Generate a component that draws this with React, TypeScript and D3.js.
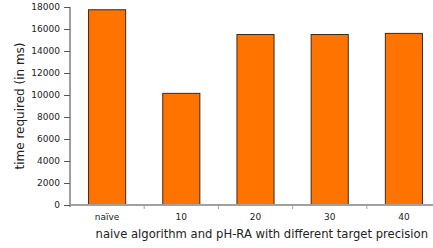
import { useEffect, useRef } from 'react';
import * as d3 from 'd3';

const WIDTH = 433;
const HEIGHT = 248;
const MARGIN = { top: 7, right: -8, bottom: 43, left: 70 };

const categories = ['naïve', '10', '20', '30', '40'];
const times = [17750, 10150, 15500, 15500, 15600];
const yTicks = [0, 2000, 4000, 6000, 8000, 10000, 12000, 14000, 16000, 18000];

const FONT = '"DejaVu Sans", Verdana, sans-serif';
const AXIS_COLOR = '#a0a0a0';

export default function App() {
  const xAxisRef = useRef<SVGGElement>(null);
  const yAxisRef = useRef<SVGGElement>(null);

  const innerWidth = WIDTH - MARGIN.left - MARGIN.right;
  const innerHeight = HEIGHT - MARGIN.top - MARGIN.bottom;

  const x = d3.scaleBand<string>().domain(categories).range([0, innerWidth]).paddingInner(0.5).paddingOuter(0.25);
  const y = d3.scaleLinear().domain([0, 18000]).range([innerHeight, 0]);

  useEffect(() => {
    const xg = d3.select(xAxisRef.current!);
    xg.call(d3.axisBottom(x).tickSize(0).tickPadding(9));
    xg.select('.domain').remove();
    // tick marks sit between the categories
    const step = x.step();
    xg.selectAll('line.sep')
      .data(categories.slice(1))
      .join('line')
      .attr('class', 'sep')
      .attr('x1', (d) => x(d)! - (step - x.bandwidth()) / 2)
      .attr('x2', (d) => x(d)! - (step - x.bandwidth()) / 2)
      .attr('y1', 0)
      .attr('y2', 4)
      .attr('stroke', AXIS_COLOR)
      .attr('stroke-width', 1);
    xg.selectAll('text').attr('font-family', FONT).attr('font-size', 9).attr('fill', '#222');

    const yg = d3.select(yAxisRef.current!);
    yg.call(d3.axisLeft(y).tickValues(yTicks).tickSize(6).tickPadding(4).tickFormat((v) => String(v)));
    yg.select('.domain').remove();
    yg.selectAll('line').attr('stroke', '#555');
    yg.selectAll('text').attr('font-family', FONT).attr('font-size', 9).attr('fill', '#222');
  }, []);

  return (
    <svg width={WIDTH} height={HEIGHT} style={{ position: 'absolute', left: 0, top: 0, background: '#fff' }}>
      <g transform={`translate(${MARGIN.left},${MARGIN.top})`}>
        {categories.map((c, i) => (
          <rect
            key={c}
            x={x(c)}
            y={y(times[i])}
            width={x.bandwidth()}
            height={innerHeight - y(times[i])}
            fill="#ff7300"
            stroke="#3a2a1a"
            strokeWidth={1}
          />
        ))}
        <line x1={0} x2={innerWidth} y1={innerHeight} y2={innerHeight} stroke={AXIS_COLOR} strokeWidth={2} />
        <line x1={0} x2={0} y1={0} y2={innerHeight + 2} stroke={AXIS_COLOR} strokeWidth={2} />
        <g ref={xAxisRef} transform={`translate(0,${innerHeight})`} />
        <g ref={yAxisRef} />
      </g>
      <text
        transform={`translate(24,${MARGIN.top + innerHeight / 2}) rotate(-90)`}
        textAnchor="middle"
        fontFamily={FONT}
        fontSize={12}
        fill="#222"
      >
        time required (in ms)
      </text>
      <text x={428} y={238} textAnchor="end" fontFamily={FONT} fontSize={11.6} fill="#222">
        naive algorithm and pH-RA with different target precision
      </text>
    </svg>
  );
}
